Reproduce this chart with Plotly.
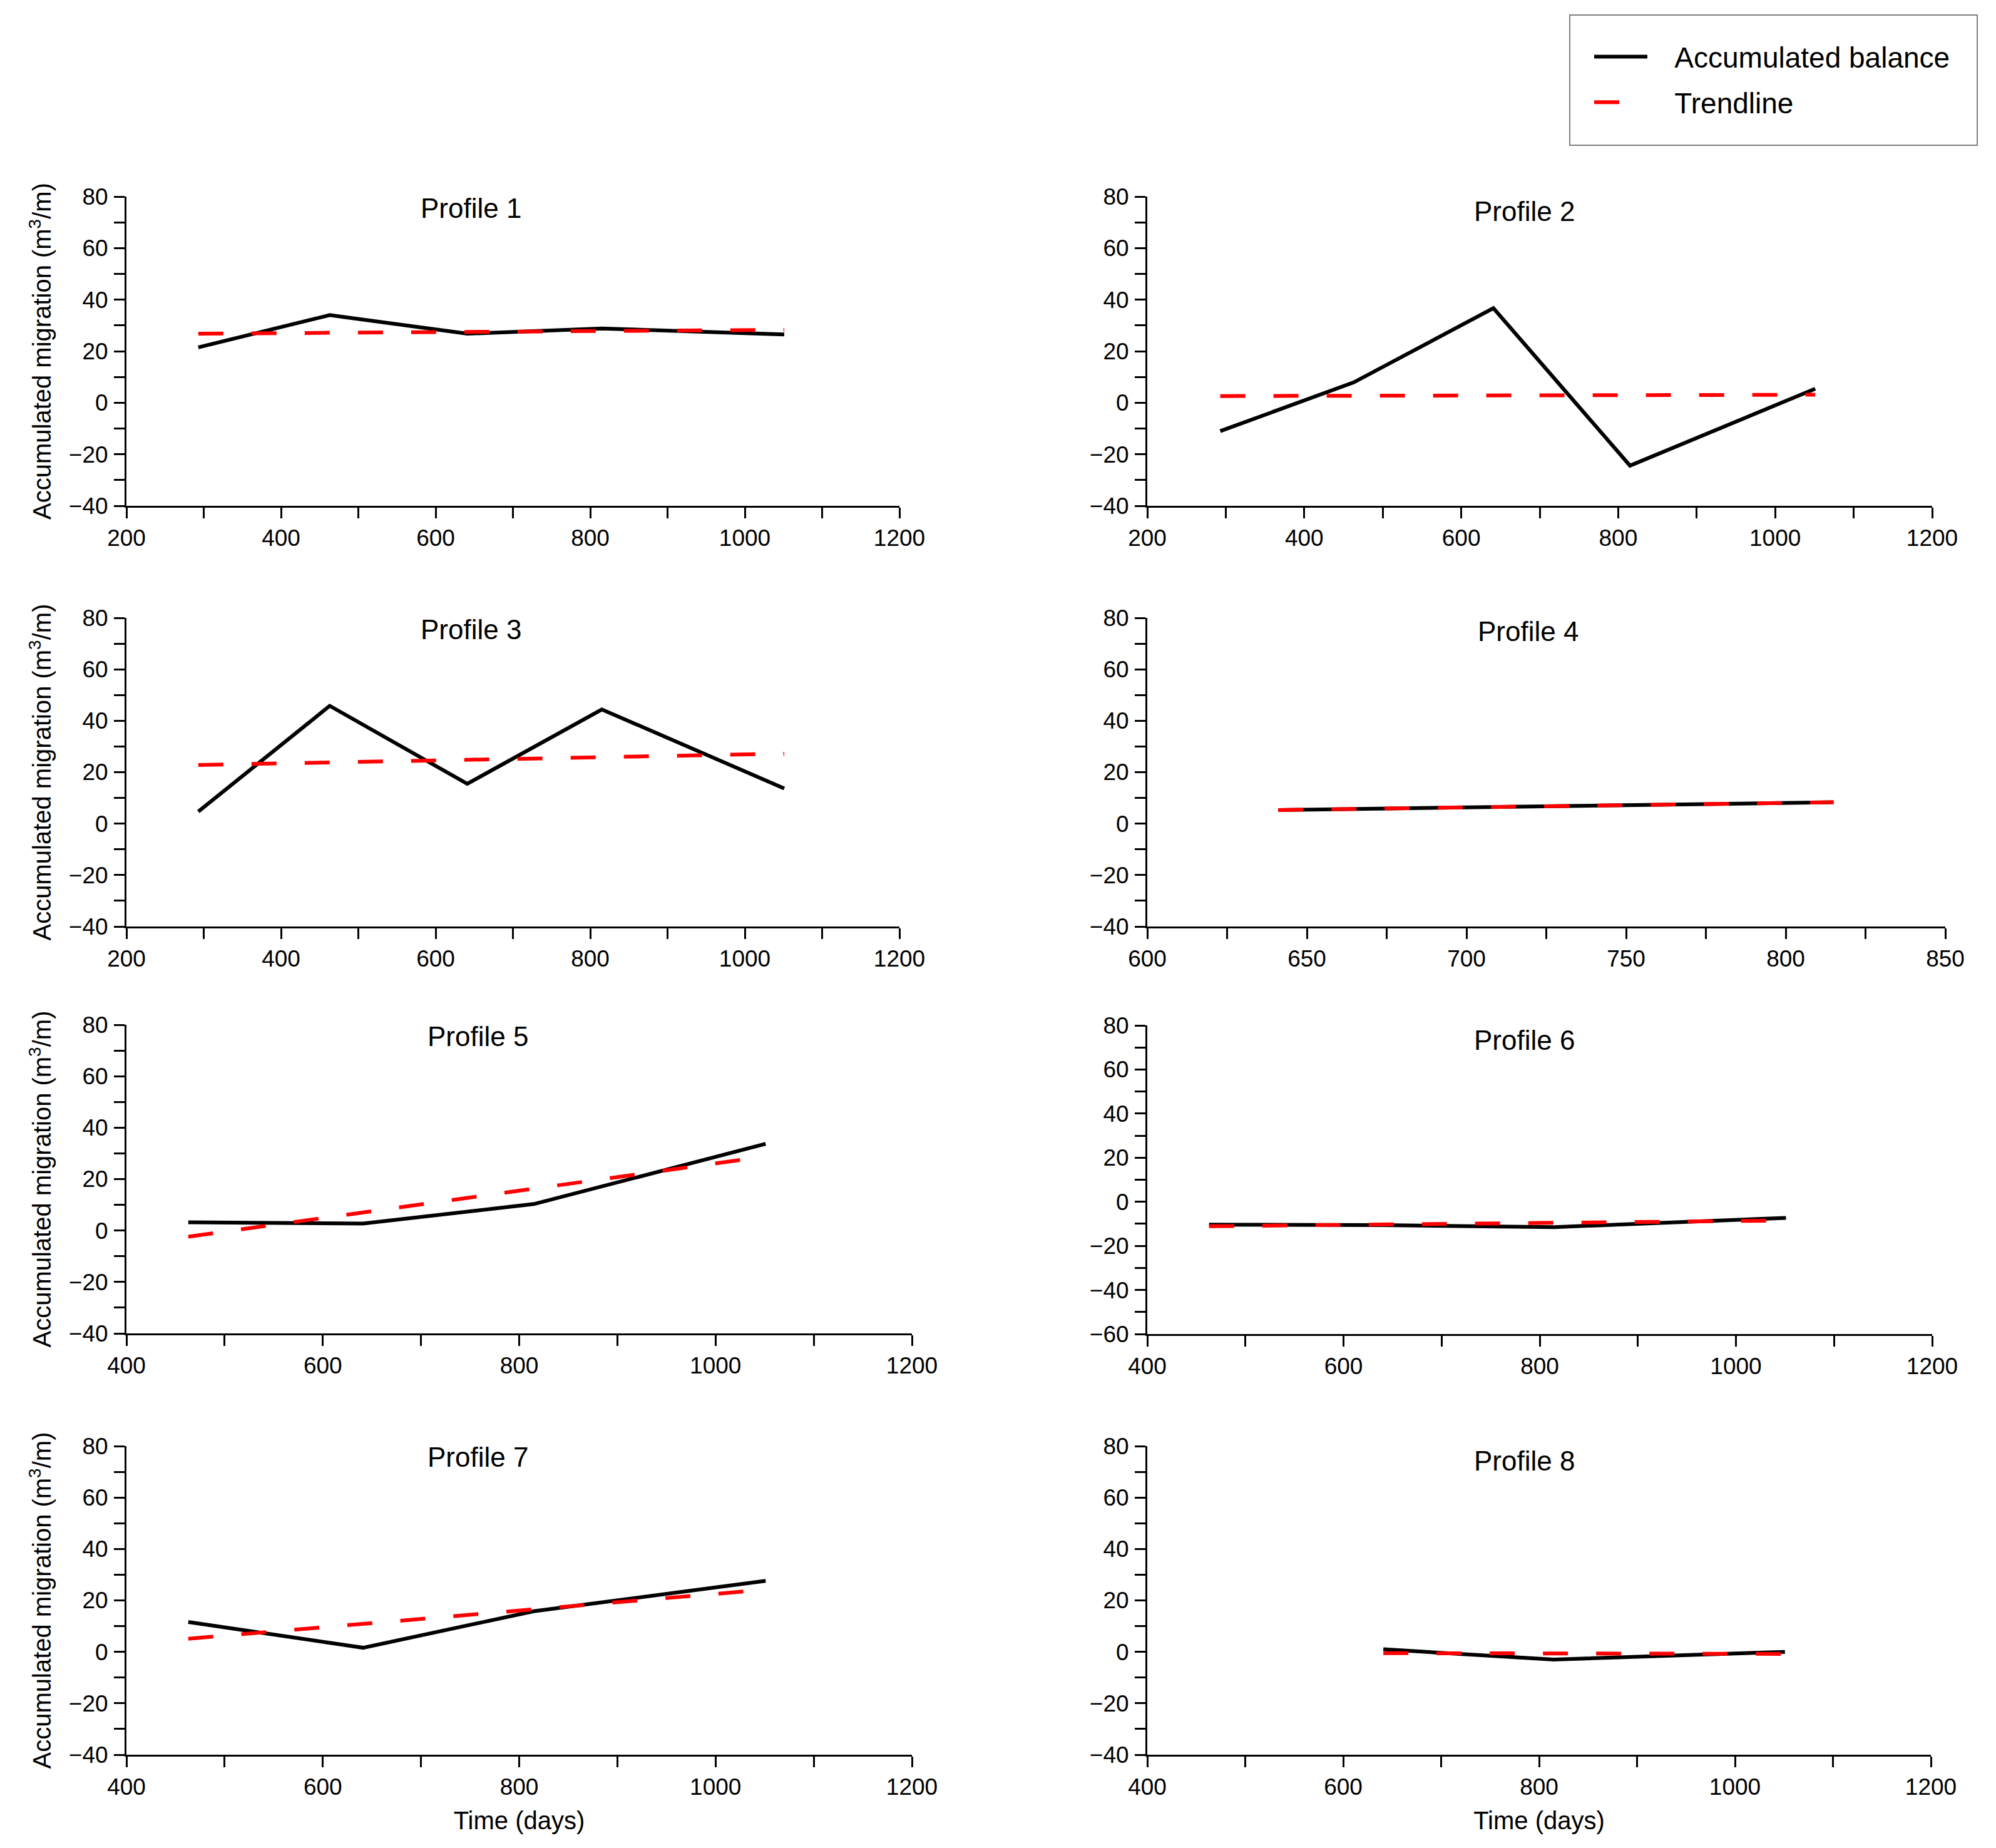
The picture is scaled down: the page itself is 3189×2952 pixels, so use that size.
import plotly.graph_objects as go

W, H = 3189, 2952
OFF = 8  # the page body adds an 8px margin; positions below are page pixels
FONT = "Liberation Sans, Arial, sans-serif"

# ---------------- data ----------------
days_p123 = [293, 463, 641, 815, 1051]
days_p4 = [641, 815]
days_p567 = [463, 641, 815, 1051]
days_p8 = [641, 815, 1051]

balance_p1 = [21.5, 34.0, 26.8, 28.8, 26.5]
balance_p2 = [-11.0, 7.9, 36.7, -24.4, 5.4]
balance_p3 = [4.7, 45.8, 15.5, 44.4, 13.7]
balance_p4 = [5.3, 8.3]
balance_p5 = [3.2, 2.7, 10.3, 33.7]
balance_p6 = [-10.4, -10.6, -11.5, -7.3]
balance_p7 = [11.6, 1.6, 15.8, 27.6]
balance_p8 = [1.0, -3.0, 0.0]

trend_days_p123 = [293, 1051]
trend_days_p4 = [641, 815]
trend_days_p567 = [463, 1051]
trend_days_p8 = [641, 1051]

trend_p1 = [26.8, 28.3]
trend_p2 = [2.6, 3.1]
trend_p3 = [22.8, 27.2]
trend_p4 = [5.3, 8.3]
trend_p5 = [-2.4, 28.8]
trend_p6 = [-11.1, -8.5]
trend_p7 = [5.1, 24.2]
trend_p8 = [-0.5, -0.8]

profile_titles = ["Profile 1", "Profile 2", "Profile 3", "Profile 4",
                  "Profile 5", "Profile 6", "Profile 7", "Profile 8"]
series_names = ["Accumulated balance", "Trendline"]
y_title = "Accumulated migration (m<sup>3</sup>/m)"
x_title = "Time (days)"


def fx(px):
    return (px - OFF) / W


def fy(py):
    return 1 - (py - OFF) / H


# ---------------- layout specs (pixels in the 3189x2952 page) ----------------
panels = [
    dict(x=days_p123, b=balance_p1, tx=trend_days_p123, t=trend_p1, xr=[200, 1200], xd=200, xm=100,
         yr=[-40, 80], px=[202, 1437], py=[314, 808], title=(752, 333)),
    dict(x=days_p123, b=balance_p2, tx=trend_days_p123, t=trend_p2, xr=[200, 1200], xd=200, xm=100,
         yr=[-40, 80], px=[1833, 3087], py=[314, 808], title=(2435, 337)),
    dict(x=days_p123, b=balance_p3, tx=trend_days_p123, t=trend_p3, xr=[200, 1200], xd=200, xm=100,
         yr=[-40, 80], px=[202, 1437], py=[987, 1480], title=(752, 1005)),
    dict(x=days_p4, b=balance_p4, tx=trend_days_p4, t=trend_p4, xr=[600, 850], xd=50, xm=25,
         yr=[-40, 80], px=[1833, 3108], py=[987, 1480], title=(2441, 1009)),
    dict(x=days_p567, b=balance_p5, tx=trend_days_p567, t=trend_p5, xr=[400, 1200], xd=200, xm=100,
         yr=[-40, 80], px=[202, 1457], py=[1637, 2130], title=(763, 1655)),
    dict(x=days_p567, b=balance_p6, tx=trend_days_p567, t=trend_p6, xr=[400, 1200], xd=200, xm=100,
         yr=[-60, 80], px=[1833, 3087], py=[1638, 2131], title=(2435, 1661)),
    dict(x=days_p567, b=balance_p7, tx=trend_days_p567, t=trend_p7, xr=[400, 1200], xd=200, xm=100,
         yr=[-40, 80], px=[202, 1457], py=[2310, 2803], title=(763, 2327)),
    dict(x=days_p8, b=balance_p8, tx=trend_days_p8, t=trend_p8, xr=[400, 1200], xd=200, xm=100,
         yr=[-40, 80], px=[1833, 3085], py=[2310, 2803], title=(2435, 2333)),
]

fig = go.Figure()
layout = dict(
    width=W, height=H,
    margin=dict(l=0, r=0, t=0, b=0, autoexpand=False),
    paper_bgcolor="white", plot_bgcolor="white",
    font=dict(family=FONT, color="black"),
    showlegend=True,
    legend=dict(x=fx(2542), y=fy(54), xanchor="left", yanchor="top",
                font=dict(size=46, family=FONT, color="black"),
                bgcolor="rgba(0,0,0,0)", borderwidth=0,
                itemwidth=85, tracegroupgap=10),
    annotations=[], shapes=[],
)

tick_common = dict(ticks="outside", ticklen=17, tickwidth=3, tickcolor="black",
                   showline=True, linecolor="black", linewidth=3,
                   showgrid=False, zeroline=False, automargin=False,
                   tickfont=dict(size=37, family=FONT, color="black"))

for i, p in enumerate(panels, start=1):
    sfx = "" if i == 1 else str(i)
    xa, ya = "xaxis" + sfx, "yaxis" + sfx
    xd = dict(domain=[fx(p["px"][0]), fx(p["px"][1])], range=p["xr"], anchor="y" + sfx,
              tick0=p["xr"][0], dtick=p["xd"], ticklabelstandoff=0,
              minor=dict(dtick=p["xm"], tick0=p["xr"][0], ticks="outside", ticklen=17,
                         tickwidth=3, tickcolor="black", showgrid=False),
              **tick_common)
    yd = dict(domain=[fy(p["py"][1]), fy(p["py"][0])], range=p["yr"], anchor="x" + sfx,
              tick0=0, dtick=20, ticklabelstandoff=2,
              minor=dict(dtick=10, tick0=0, ticks="outside", ticklen=17,
                         tickwidth=3, tickcolor="black", showgrid=False),
              **tick_common)
    if i in (1, 3, 5, 7):
        yd["title"] = dict(text=y_title, font=dict(size=40, family=FONT, color="black"), standoff=16)
    if i in (7, 8):
        xd["title"] = dict(text=x_title, font=dict(size=40, family=FONT, color="black"), standoff=20)
    layout[xa] = xd
    layout[ya] = yd

    pad = "\u00a0\u00a0\u00a0"
    fig.add_trace(go.Scatter(x=p["x"], y=p["b"], mode="lines", name=pad + series_names[0],
                             legendgroup="bal", showlegend=(i == 1),
                             line=dict(color="black", width=6),
                             xaxis="x" + sfx, yaxis="y" + sfx))
    fig.add_trace(go.Scatter(x=p["tx"], y=p["t"], mode="lines", name=pad + series_names[1],
                             legendgroup="trend", showlegend=(i == 1),
                             line=dict(color="#ff0000", width=6, dash="40px,45px"),
                             xaxis="x" + sfx, yaxis="y" + sfx))

    tx, ty = p["title"]
    layout["annotations"].append(dict(text=profile_titles[i - 1], x=fx(tx), y=fy(ty),
                                      xref="paper", yref="paper", xanchor="center", yanchor="middle",
                                      showarrow=False, font=dict(size=44, family=FONT, color="black")))

# legend frame
layout["shapes"].append(dict(type="rect", xref="paper", yref="paper",
                             x0=fx(2508), x1=fx(3159), y0=fy(232), y1=fy(24),
                             line=dict(color="#7f7f7f", width=2), fillcolor="rgba(0,0,0,0)"))

fig.update_layout(**layout)
fig.write_html("out.html")
